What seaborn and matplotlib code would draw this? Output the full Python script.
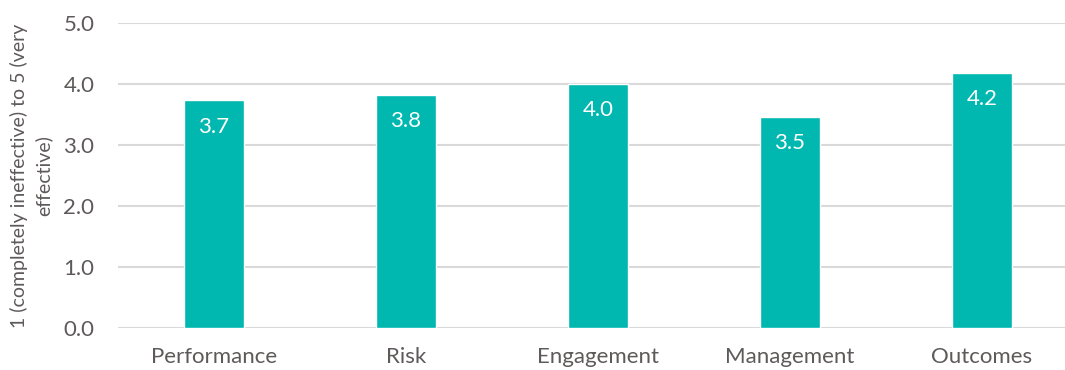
import matplotlib
matplotlib.use("Agg")
import matplotlib.pyplot as plt
import seaborn as sns
import pandas as pd

categories = ["Performance", "Risk", "Engagement", "Management", "Outcomes"]
values = [3.73, 3.82, 4.0, 3.46, 4.18]
labels = ["3.7", "3.8", "4.0", "3.5", "4.2"]
yticks = [0.0, 1.0, 2.0, 3.0, 4.0, 5.0]
ylabel = "1 (completely ineffective) to 5 (very\neffective)"

sns.set_theme(style="white")
plt.rcParams['font.family'] = ['Lato', 'DejaVu Sans']

df = pd.DataFrame({"cat": categories, "val": values})
fig = plt.figure(figsize=(10.65, 3.7), dpi=100)
W, H = 1065, 370
ax = fig.add_axes([118 / W, (H - 328) / H, 960 / W, 305 / H])
sns.barplot(data=df, x="cat", y="val", color="#00B8B0", saturation=1,
            width=0.3125, ax=ax, zorder=3)
ax.set_ylim(0, 5)
ax.set_xlim(-0.5, 4.5)
ax.set_yticks(yticks)
ax.set_yticklabels([f"{t:.1f}" for t in yticks])
ax.grid(axis="y", color="#d9d9d9", linewidth=1.5, zorder=0)
ax.set_axisbelow(True)
for s in ax.spines.values():
    s.set_visible(False)
ax.tick_params(axis="y", length=0, pad=17, labelsize=16, labelcolor="#5f5a5a")
ax.tick_params(axis="x", length=0, pad=14, labelsize=16, labelcolor="#5f5a5a")
ax.set_xlabel("")
ax.set_ylabel(ylabel, fontsize=14, color="#5f5a5a", labelpad=8, linespacing=1.45)
for i, (v, lab) in enumerate(zip(values, labels)):
    ax.annotate(lab, (i, v), xytext=(0, -19), textcoords="offset points",
                ha="center", va="center", color="white", fontsize=16)
fig.savefig("out.png", dpi=100)
